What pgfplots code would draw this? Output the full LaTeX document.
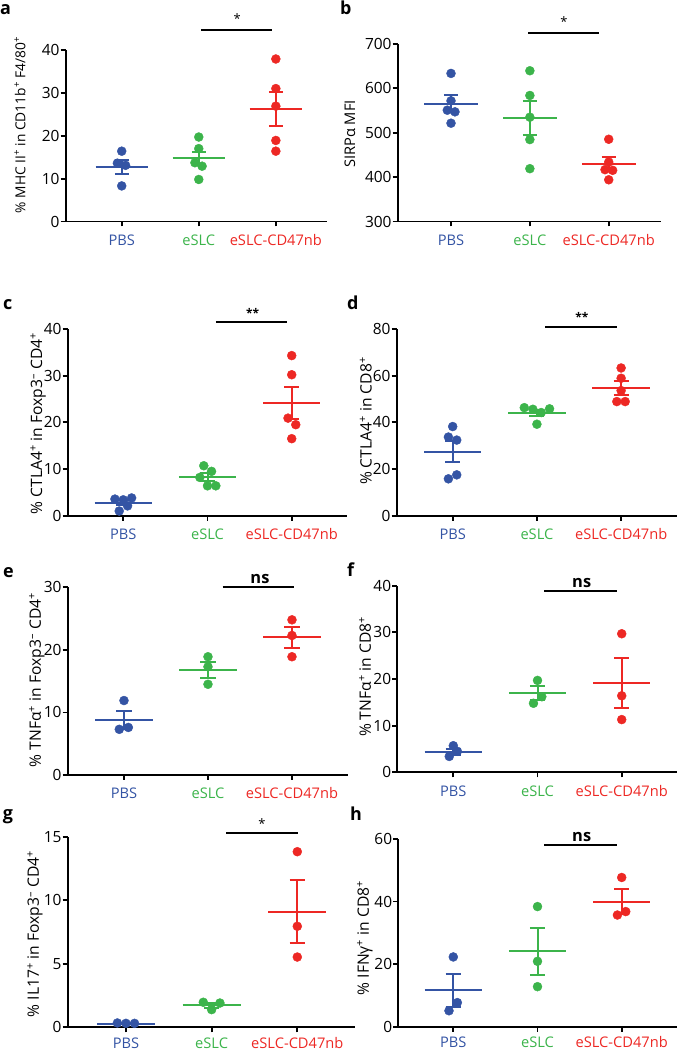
\documentclass[border=0pt]{standalone}
\usepackage{fontspec}
\setmainfont{Open Sans}
\usepackage{pgfplots}
\pgfplotsset{compat=1.18}
\definecolor{cblue}{RGB}{52,84,164}
\definecolor{cgreen}{RGB}{60,180,75}
\definecolor{cred}{RGB}{237,40,36}
\newcommand{\grp}[4]{%
  \pgfmathsetmacro\xl{#2-0.34}\pgfmathsetmacro\xr{#2+0.34}%
  \pgfmathsetmacro\cl{#2-0.09}\pgfmathsetmacro\cr{#2+0.09}%
  \pgfmathsetmacro\lo{#3-#4}\pgfmathsetmacro\hi{#3+#4}%
  \edef\tmp{%
   \noexpand\addplot[#1, line width=2bp, forget plot] coordinates {(\xl,#3) (\xr,#3)};
   \noexpand\addplot[#1, line width=2bp, forget plot] coordinates {(#2,\lo) (#2,\hi)};
   \noexpand\addplot[#1, line width=2bp, forget plot] coordinates {(\cl,\hi) (\cr,\hi)};
   \noexpand\addplot[#1, line width=2bp, forget plot] coordinates {(\cl,\lo) (\cr,\lo)};}%
  \tmp
}
\newcommand{\pts}[2]{\addplot[only marks, mark=*, mark size=4.5bp, #1, mark options={draw=none, fill=#1}, forget plot] coordinates {#2};}
\pgfplotsset{
  panel/.style={
    scale only axis, anchor=south west,
    axis lines=left, axis line style={-, line width=1.8bp, black},
    tick style={line width=1.8bp, black},
    tick align=outside, major tick length=5bp,
    xtick={0,1,2},
    xticklabels={\textcolor{cblue}{PBS},\textcolor{cgreen}{eSLC},\textcolor{cred}{eSLC-CD47nb}},
    xticklabel style={font=\fontsize{14.7}{17}\selectfont, anchor=base, yshift=-19bp},
    yticklabel style={font=\fontsize{15.5}{18}\selectfont, inner xsep=1bp},
    /pgf/number format/assume math mode=true,
    clip=false, enlargelimits=false,
    ylabel style={anchor=center, rotate=0, font=\fontsize{15.7}{17}\selectfont},
  },
}
\tikzset{
  sstar/.style={font=\fontsize{13}{13}\selectfont, anchor=base},
  dstar/.style={font=\bfseries\fontsize{12}{12}\selectfont, anchor=base},
  nstxt/.style={font=\bfseries\fontsize{16.5}{17}\selectfont, anchor=base},
  lett/.style={anchor=base west, font=\fontsize{18}{18}\bfseries\selectfont, inner sep=0},
}
\begin{document}
\begin{tikzpicture}
\useasboundingbox (0,0) rectangle (678bp,1050bp);
% ---- a ----
\begin{axis}[panel, at={(65.7bp,828.5bp)}, width=261bp, height=171.5bp,
  xmin=-0.727, xmax=2.66, ymin=0, ymax=40, ytick={0,10,20,30,40},
  ylabel={\% MHC II\textsuperscript{+} in CD11b\textsuperscript{+} F4/80\textsuperscript{+}},
  ylabel style={at={(axis description cs:-0.175,0.563)}, font=\fontsize{13.8}{15}\selectfont}]
\pts{cblue}{(0,16.4) (-0.056,13.6) (0.05,13.1) (0,8.3)}
\pts{cgreen}{(1,19.7) (1,17.0) (0.95,13.7) (1.043,12.9) (1,9.8)}
\pts{cred}{(2,37.9) (2,31.0) (2,26.9) (2,18.9) (2,16.4)}
\grp{cblue}{0}{12.7}{1.7}
\grp{cgreen}{1}{14.7}{1.6}
\grp{cred}{2}{26.2}{3.9}
\addplot[black, line width=1.8bp] coordinates {(1.03,44.7) (1.95,44.7)};
\node[sstar, yshift=6.2bp] at (axis cs:1.5,44.7) {*};
\end{axis}
\node[lett] at (0bp,1035bp) {a};
% ---- b ----
\begin{axis}[panel, at={(397.7bp,828.5bp)}, width=263.7bp, height=177.5bp,
  xmin=-0.676, xmax=2.668, ymin=300, ymax=700, ytick={300,400,500,600,700},
  ylabel={SIRPα MFI},
  ylabel style={at={(axis description cs:-0.181,0.493)}, font=\fontsize{14.7}{15}\selectfont}]
\pts{cblue}{(0,633.7) (0,571.9) (-0.047,550.8) (0.05,547.1) (0,521.5)}
\pts{cgreen}{(1,639.7) (1,584) (1,535) (1,484.6) (1,419)}
\pts{cred}{(2,485.3) (2,434) (1.953,416.8) (2.05,415.3) (2,394)}
\grp{cblue}{0}{565}{19}
\grp{cgreen}{1}{532.5}{38}
\grp{cred}{2}{429}{16}
\addplot[black, line width=1.8bp] coordinates {(0.977,725.5) (1.877,725.5)};
\node[sstar, yshift=6.6bp] at (axis cs:1.433,725.5) {*};
\end{axis}
\node[lett] at (340bp,1035bp) {b};
% ---- c ----
\begin{axis}[panel, at={(67.7bp,534.3bp)}, width=279.6bp, height=186.7bp,
  xmin=-0.66, xmax=2.66, ymin=0, ymax=40, ytick={0,10,20,30,40},
  ylabel={\% CTLA4\textsuperscript{+} in Foxp3\textsuperscript{–} CD4\textsuperscript{+}},
  ylabel style={at={(axis description cs:-0.106,0.494)}}]
\pts{cblue}{(-0.099,3.56) (0,3.4) (0.099,3.8) (0.051,2.1) (-0.048,1.0)}
\pts{cgreen}{(0.956,10.7) (1.048,9.5) (0.909,8.2) (1,6.4) (1.099,6.4)}
\pts{cred}{(2,34.3) (2,30.2) (1.956,20.9) (2.048,19.5) (2,16.5)}
\grp{cblue}{0}{2.8}{0.5}
\grp{cgreen}{1}{8.3}{0.8}
\grp{cred}{2}{24.2}{3.4}
\addplot[black, line width=1.8bp] coordinates {(1.10,41.5) (1.948,41.5)};
\node[dstar, yshift=4.5bp] at (axis cs:1.537,41.5) {**};
\end{axis}
\node[lett] at (3bp,740bp) {c};
% ---- d ----
\begin{axis}[panel, at={(396.7bp,534.3bp)}, width=280bp, height=186.7bp,
  xmin=-0.665, xmax=2.66, ymin=0, ymax=80, ytick={0,20,40,60,80},
  ylabel={\% CTLA4\textsuperscript{+} in CD8\textsuperscript{+}},
  ylabel style={at={(axis description cs:-0.110,0.507)}}]
\pts{cblue}{(0,38.2) (-0.051,33.7) (0.048,32.4) (0.048,17.5) (-0.051,15.8)}
\pts{cgreen}{(0.85,46.3) (0.952,45.6) (1.051,44.2) (1.15,45.8) (1,39.2)}
\pts{cred}{(2,63.3) (2,58.9) (2,53.6) (1.949,48.9) (2.048,48.9)}
\grp{cblue}{0}{27.5}{4.4}
\grp{cgreen}{1}{44.2}{1.3}
\grp{cred}{2}{54.8}{3.0}
\addplot[black, line width=1.8bp] coordinates {(1.097,80.9) (1.949,80.9)};
\node[dstar, yshift=5.3bp] at (axis cs:1.533,80.9) {**};
\end{axis}
\node[lett] at (347bp,740bp) {d};
% ---- e ----
\begin{axis}[panel, at={(67.7bp,275bp)}, width=280.3bp, height=187.7bp,
  xmin=-0.67, xmax=2.667, ymin=0, ymax=30, ytick={0,10,20,30},
  ylabel={\% TNFα\textsuperscript{+} in Foxp3\textsuperscript{–} CD4\textsuperscript{+}},
  ylabel style={at={(axis description cs:-0.110,0.506)}}]
\pts{cblue}{(0,11.9) (-0.056,7.3) (0.052,7.6)}
\pts{cgreen}{(1,18.9) (1,17.3) (1,14.5)}
\pts{cred}{(2,24.8) (2,22.3) (2,18.9)}
\grp{cblue}{0}{8.8}{1.5}
\grp{cgreen}{1}{16.8}{1.3}
\grp{cred}{2}{22.0}{1.7}
\addplot[black, line width=1.8bp] coordinates {(1.175,30.0) (2.027,30.0)};
\node[nstxt, yshift=3.7bp] at (axis cs:1.619,30.0) {ns};
\end{axis}
\node[lett] at (3bp,472.7bp) {e};
% ---- f ----
\begin{axis}[panel, at={(397.3bp,277.7bp)}, width=280bp, height=186.6bp,
  xmin=-0.665, xmax=2.66, ymin=0, ymax=40, ytick={0,10,20,30,40},
  ylabel={\% TNFα\textsuperscript{+} in CD8\textsuperscript{+}},
  ylabel style={at={(axis description cs:-0.115,0.512)}}]
\pts{cblue}{(0,5.7) (-0.048,3.4) (0.048,4.5)}
\pts{cgreen}{(1,19.7) (1.051,16.2) (0.952,14.8)}
\pts{cred}{(2,29.7) (2,16.4) (2,11.3)}
\grp{cblue}{0}{4.4}{0.7}
\grp{cgreen}{1}{16.9}{1.5}
\grp{cred}{2}{19.1}{5.4}
\addplot[black, line width=1.8bp] coordinates {(1.081,38.8) (1.94,38.8)};
\node[nstxt, yshift=3.7bp] at (axis cs:1.525,38.8) {ns};
\end{axis}
\node[lett] at (347bp,473.3bp) {f};
% ---- g ----
\begin{axis}[panel, at={(67.7bp,22.7bp)}, width=287bp, height=190.6bp,
  xmin=-0.68, xmax=2.67, ymin=0, ymax=15, ytick={0,5,10,15},
  xticklabel style={yshift=3bp},
  ylabel={\% IL17\textsuperscript{+} in Foxp3\textsuperscript{–} CD4\textsuperscript{+}},
  ylabel style={at={(axis description cs:-0.114,0.49)}}]
\pts{cblue}{(-0.1,0.34) (0,0.31) (0.1,0.31)}
\pts{cgreen}{(0.903,1.97) (1.097,1.91) (1,1.39)}
\pts{cred}{(2,13.82) (2,7.95) (2,5.53)}
\grp{cblue}{0}{0.28}{0.05}
\grp{cgreen}{1}{1.72}{0.18}
\grp{cred}{2}{9.1}{2.46}
\addplot[black, line width=1.8bp] coordinates {(1.168,15.3) (2.005,15.3)};
\node[sstar, yshift=3.9bp] at (axis cs:1.588,15.3) {*};
\end{axis}
\node[lett] at (2.7bp,230bp) {g};
% ---- h ----
\begin{axis}[panel, at={(398.3bp,23.3bp)}, width=278.4bp, height=187.7bp,
  xmin=-0.653, xmax=2.653, ymin=0, ymax=60, ytick={0,20,40,60},
  xticklabel style={yshift=3bp},
  ylabel={\% IFNγ\textsuperscript{+} in CD8\textsuperscript{+}},
  ylabel style={at={(axis description cs:-0.120,0.473)}}]
\pts{cblue}{(0,22.3) (0.048,7.7) (-0.051,5.1)}
\pts{cgreen}{(1,38.4) (1,20.9) (1,12.8)}
\pts{cred}{(2,47.7) (1.949,35.7) (2.048,36.8)}
\grp{cblue}{0}{11.6}{5.4}
\grp{cgreen}{1}{24.1}{7.6}
\grp{cred}{2}{40.0}{4.0}
\addplot[black, line width=1.8bp] coordinates {(1.081,58) (1.94,58)};
\node[nstxt, yshift=3.3bp] at (axis cs:1.525,58) {ns};
\end{axis}
\node[lett] at (350bp,229.3bp) {h};
\end{tikzpicture}
\end{document}
